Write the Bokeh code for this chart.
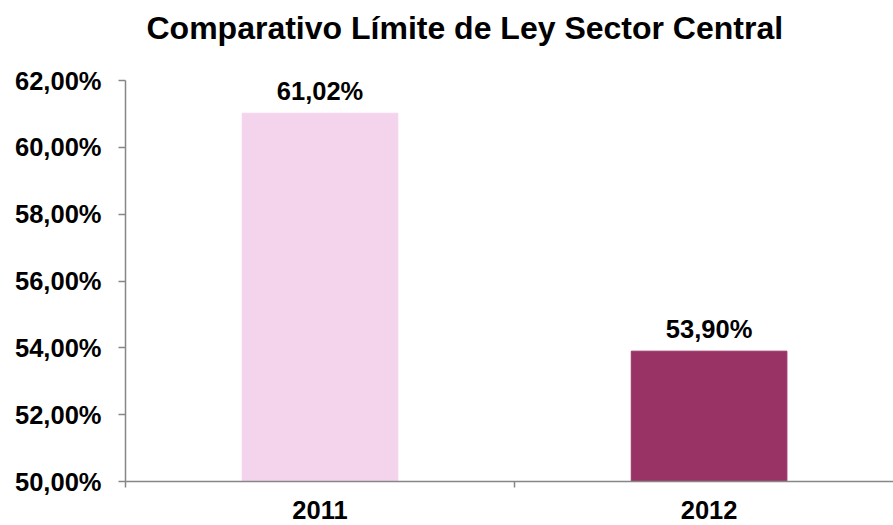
from bokeh.plotting import figure
from bokeh.models import Range1d, FixedTicker, ColumnDataSource, LinearAxis, Title
from bokeh.core.properties import value
from bokeh.embed import file_html
from bokeh.resources import INLINE

title_text = "Comparativo Límite de Ley Sector Central"
years = ["2011", "2012"]
values = [61.02, 53.90]
bar_colors = ["#F4D4EC", "#993366"]
y_ticks = [50, 52, 54, 56, 58, 60, 62]
y_tick_labels = ["50,00%", "52,00%", "54,00%", "56,00%", "58,00%", "60,00%", "62,00%"]
value_labels = ["61,02%", "53,90%"]

FONT = "Liberation Sans"
FS = "25.5px"

x_pos = [i + 0.5 for i in range(len(years))]
src = ColumnDataSource(dict(x=x_pos, top=values, color=bar_colors, label=value_labels))

p = figure(width=893, height=525, output_backend="svg", toolbar_location=None, title=None,
           x_range=Range1d(0, 1.974), y_range=Range1d(50, 62),
           min_border_left=125, min_border_right=0, min_border_bottom=44, min_border_top=80,
           x_axis_type=None, y_axis_type=None)
p.outline_line_color = None
p.grid.visible = False
p.background_fill_color = "white"
p.border_fill_color = "white"

# spacer between the frame and the title
p.add_layout(Title(text=" ", text_font_size="1px", standoff=32), "above")
p.add_layout(Title(text=title_text, text_font=FONT, text_font_size="32px", text_font_style="bold",
                   text_color="black", align="left", offset=21, standoff=0), "above")

p.vbar(x="x", top="top", bottom=50, width=0.40, color="color", source=src)
p.text(x="x", y="top", text="label", source=src, text_align="center", text_baseline="bottom",
       y_offset=-8, text_font=value(FONT), text_font_size=FS, text_font_style="bold",
       text_color="black")

yaxis = LinearAxis(ticker=FixedTicker(ticks=y_ticks, minor_ticks=[]))
yaxis.major_label_overrides = {t: l for t, l in zip(y_ticks, y_tick_labels)}
yaxis.axis_line_color = "#868686"
yaxis.major_tick_line_color = "#868686"
yaxis.major_tick_out = 7
yaxis.major_tick_in = 0
yaxis.minor_tick_line_color = None
yaxis.major_label_standoff = 17
yaxis.major_label_text_font = FONT
yaxis.major_label_text_font_size = FS
yaxis.major_label_text_font_style = "bold"
yaxis.major_label_text_color = "black"
yaxis.axis_line_width = 1.5
yaxis.major_tick_line_width = 1.5
p.add_layout(yaxis, "left")

xaxis = LinearAxis(ticker=FixedTicker(ticks=x_pos, minor_ticks=[0, 1, 2]))
xaxis.major_label_overrides = {x: y for x, y in zip(x_pos, years)}
xaxis.axis_line_color = "#868686"
xaxis.axis_line_width = 1.5
xaxis.major_tick_line_color = None
xaxis.major_tick_out = 0
xaxis.major_tick_in = 0
xaxis.minor_tick_line_color = "#868686"
xaxis.minor_tick_line_width = 1.5
xaxis.minor_tick_out = 6
xaxis.minor_tick_in = 0
xaxis.major_label_standoff = 13
xaxis.major_label_text_font = FONT
xaxis.major_label_text_font_size = FS
xaxis.major_label_text_font_style = "bold"
xaxis.major_label_text_color = "black"
p.add_layout(xaxis, "below")

open("out.html", "w").write(file_html(p, INLINE))
